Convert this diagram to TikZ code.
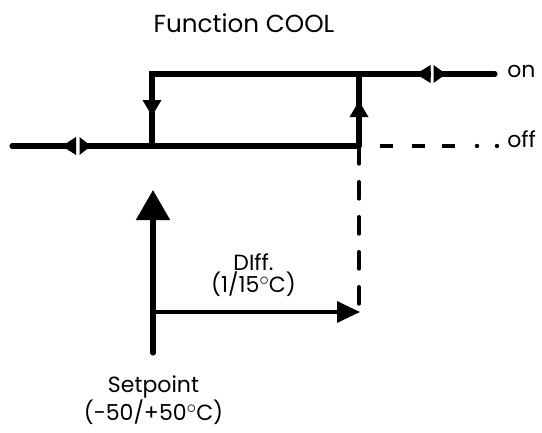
\documentclass[tikz,border=0pt]{standalone}
\usepackage{fontspec}
\setmainfont{Poppins}
\usetikzlibrary{arrows.meta}
\newcommand{\degring}{\raisebox{4.8pt}{\fontsize{15}{15}\selectfont$\circ$}}
\tikzset{
  thickln/.style={line width=3.8pt, line cap=round},
  thinln/.style={line width=2.4pt, line cap=round},
  dashln/.style={line width=3pt},
  lbl/.style={inner sep=0pt, font=\fontsize{16.5}{19}\selectfont},
  ttl/.style={inner sep=0pt, font=\fontsize{18.5}{22}\selectfont},
}
\begin{document}
\begin{tikzpicture}[x=0.75pt,y=-0.75pt]
\useasboundingbox (0,0) rectangle (542,432);
% coordinates
\coordinate (L0) at (12,146);
\coordinate (Sx) at (152,146);
\coordinate (Rx) at (359,146);
\coordinate (St) at (152,74);
\coordinate (Rt) at (359,74);
\coordinate (Ton) at (495,74);
% lower solid line
\draw[thickln] (L0) -- (Rx);
% upper line and verticals
\draw[thickln, line join=miter] (Sx) -- (St) -- (Ton);
\draw[thickln] (Rx) -- (Rt);
% gaps for double arrows
\fill[white] (76,140) rectangle (79.5,152);
\fill[white] (430.5,68) rectangle (433.5,80);
% double arrows
\fill (62,146) -- (76,137) -- (76,155) -- cycle;
\fill (91,146) -- (79.5,137) -- (79.5,155) -- cycle;
\fill (416,74) -- (430.5,65) -- (430.5,83) -- cycle;
\fill (446,74) -- (433.5,65) -- (433.5,83) -- cycle;
% vertical arrowheads
\fill (152,116) -- (142.5,100) -- (161.5,100) -- cycle;
\fill (359,101) -- (349.5,117) -- (368.5,117) -- cycle;
% dashed off line
\draw[dashln] (380,146) -- (393,146);
\draw[dashln] (412,146) -- (425,146);
\draw[dashln] (442,146) -- (455,146);
\fill (477,146) circle (2.2);
\fill (497,146) circle (2.2);
% dashed vertical
\draw[dashln, line cap=round, dash pattern=on 12.5pt off 13.75pt] (359,147) -- (359,304);
% setpoint arrow
\coordinate (Sb) at (153,353);
\coordinate (Stip) at (153,190);
\draw[thickln, -{Triangle[length=30*0.75pt, width=33*0.75pt]}] (Sb) -- (Stip);
% diff arrow
\coordinate (Dtip) at (360,312);
\draw[thinln, -{Triangle[length=23*0.75pt, width=21*0.75pt]}] (153,312) -- (Dtip);
% texts
\node[ttl, anchor=base] (title) at (244,32) {Function COOL};
\node[lbl, anchor=base west] (on) at (507,77) {on};
\node[lbl, anchor=base west] (off) at (507,147) {off};
\node[lbl, anchor=base, align=center, font=\fontsize{16.5}{16}\selectfont] (diff) at (253.5,292) {DIff.\\(1/15\degring C)};
\node[lbl, anchor=base, align=center, font=\fontsize{16.5}{18.5}\selectfont] (sp) at (153.5,420) {Setpoint\\(-50/+50\degring C)};
\end{tikzpicture}
\end{document}
